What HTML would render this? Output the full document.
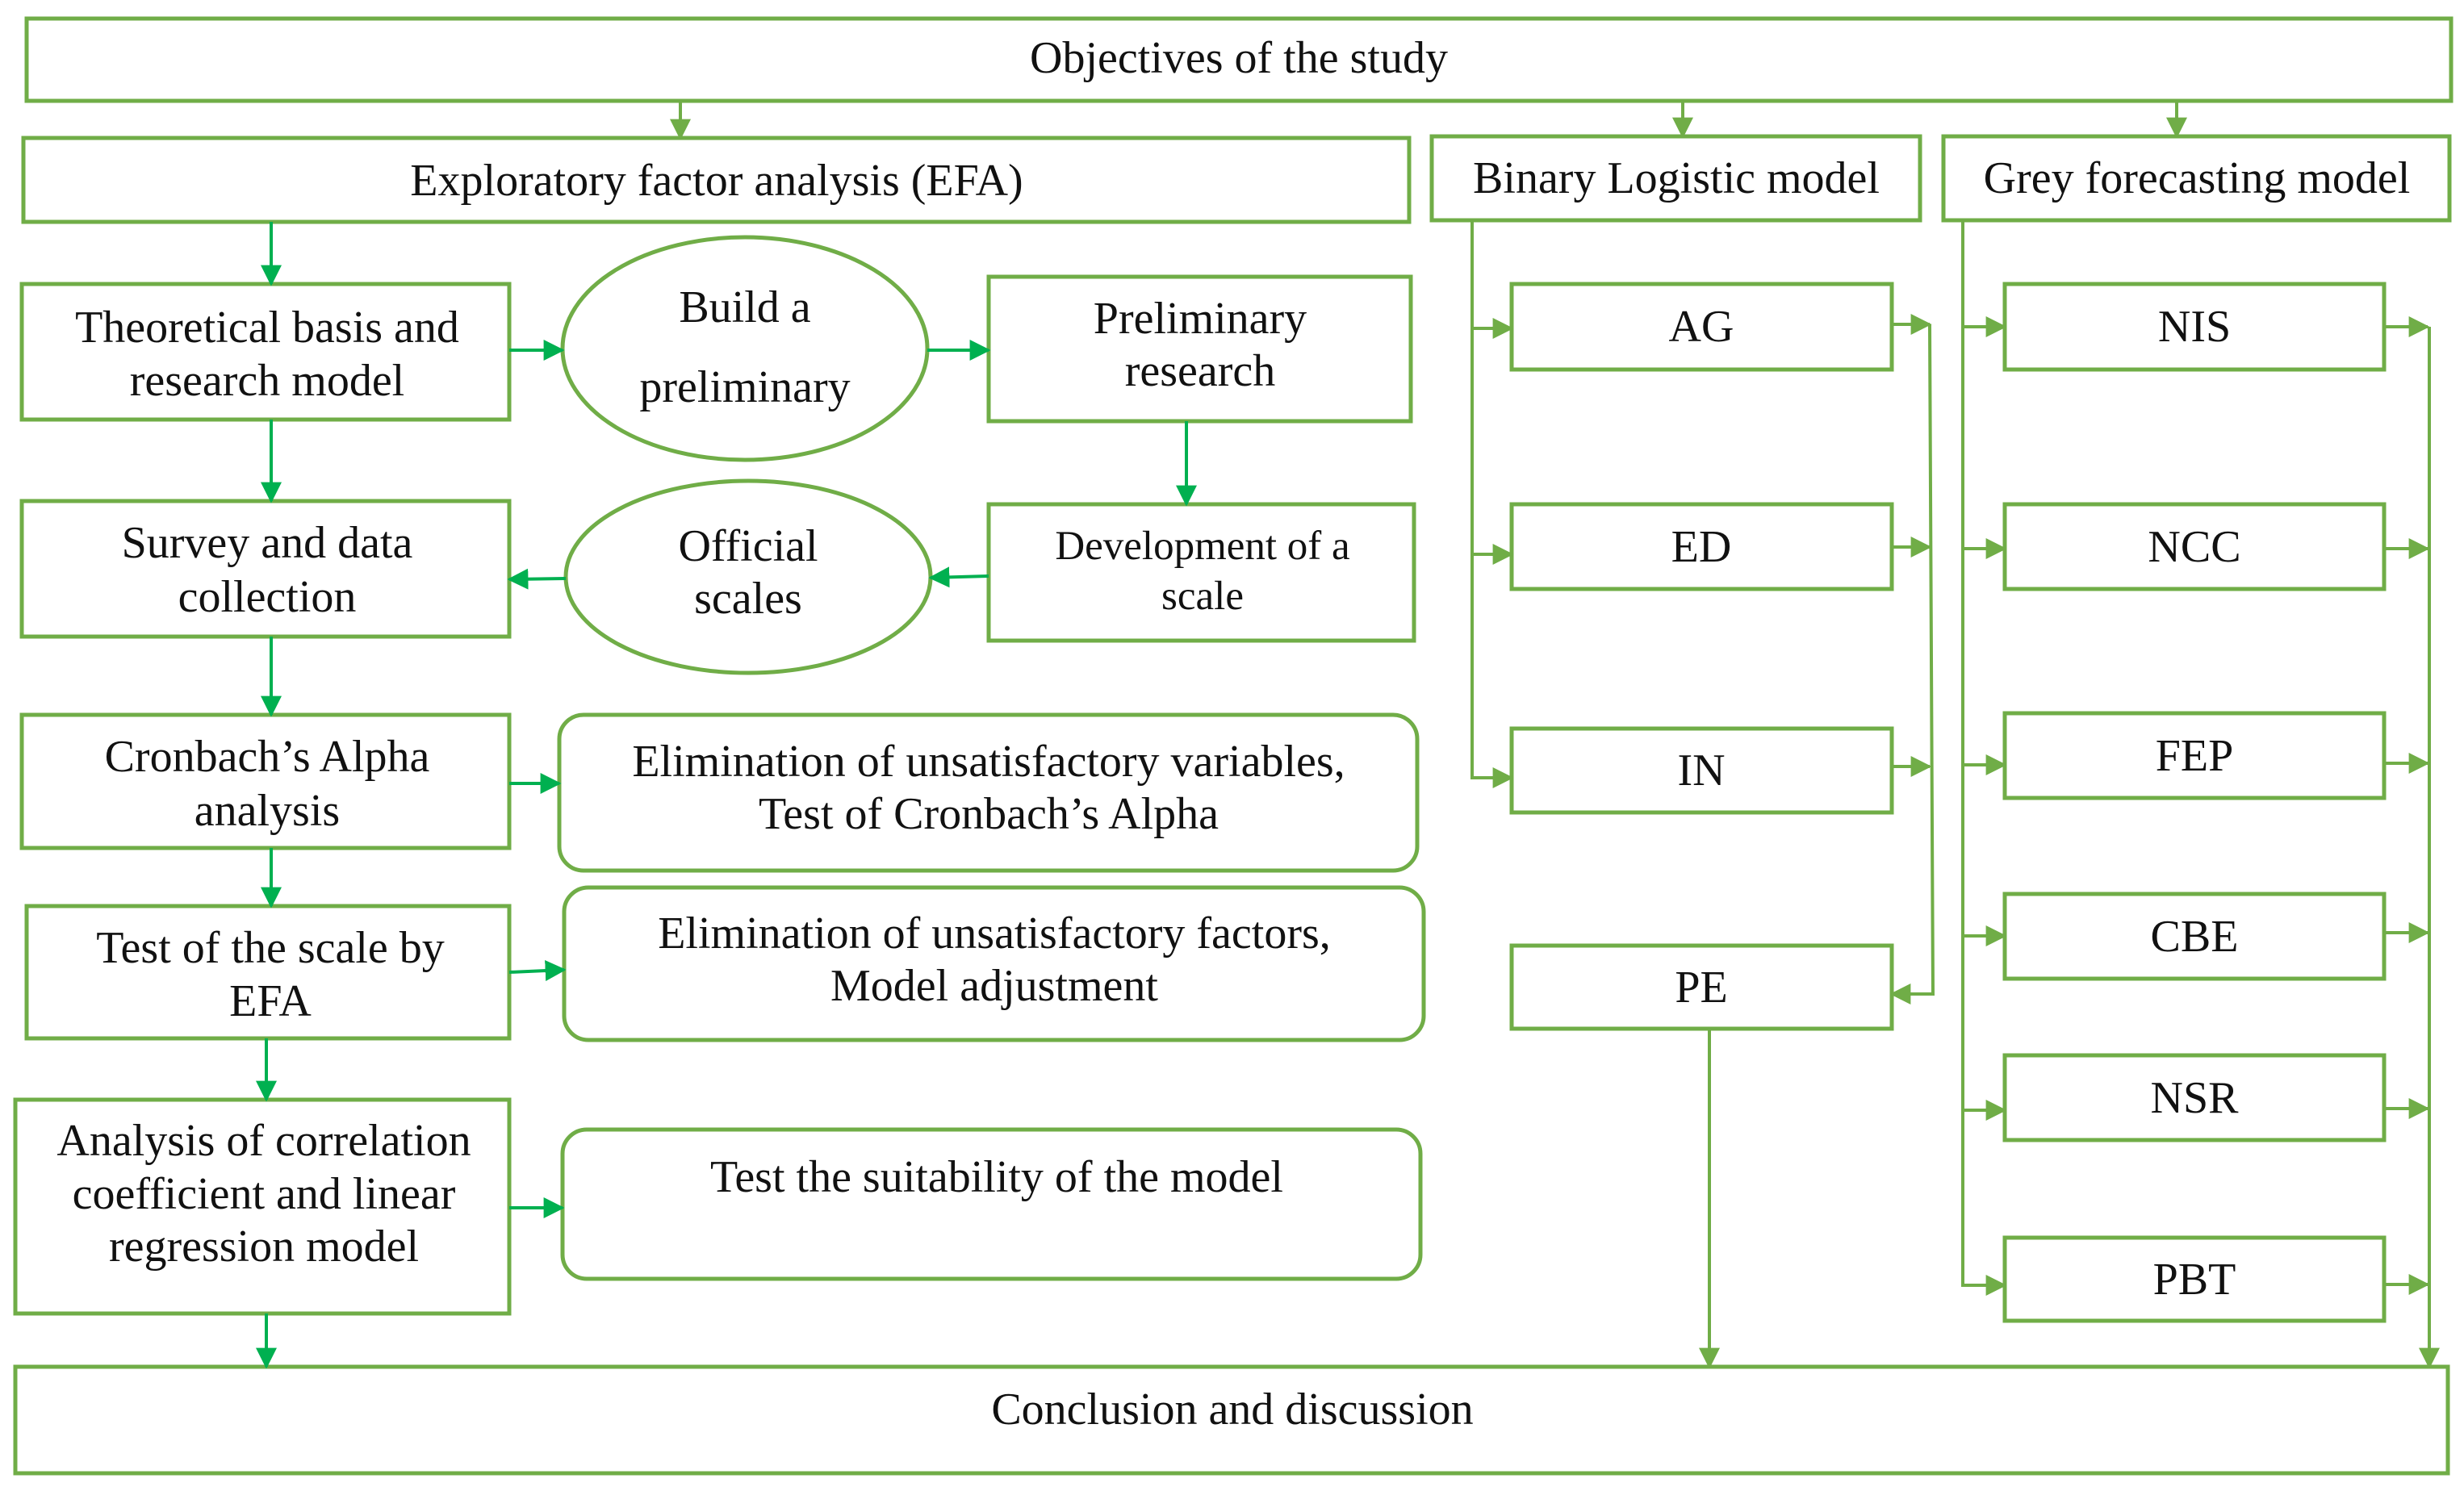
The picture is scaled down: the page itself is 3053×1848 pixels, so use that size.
<!DOCTYPE html>
<html><head><meta charset="utf-8"><style>html,body{margin:0;padding:0;background:#fff}svg{display:block}
svg text{font-family:"Liberation Serif","Times New Roman",Times,"Noto Serif CJK SC",serif !important;}</style></head>
<body>
<svg width="3053" height="1848" viewBox="0 0 3053 1848" xmlns="http://www.w3.org/2000/svg">
<defs>
<marker id="gb" viewBox="0 0 10 10" refX="9" refY="5" markerWidth="26" markerHeight="26" orient="auto" markerUnits="userSpaceOnUse"><path d="M0,0 L10,5 L0,10z" fill="#00b050"/></marker>
<marker id="lb" viewBox="0 0 10 10" refX="9" refY="5" markerWidth="26" markerHeight="26" orient="auto" markerUnits="userSpaceOnUse"><path d="M0,0 L10,5 L0,10z" fill="#70ad47"/></marker>
</defs>
<g fill="#fff" stroke="#70ad47" stroke-width="5">
<rect x="33" y="23" width="3004" height="102"/>
<rect x="29" y="171" width="1717" height="104"/>
<rect x="1774" y="169" width="605" height="104"/>
<rect x="2408" y="169" width="627" height="104"/>
<rect x="27" y="352" width="604" height="168"/>
<ellipse cx="923" cy="432" rx="226" ry="138"/>
<rect x="1225" y="343" width="523" height="179"/>
<rect x="27" y="621" width="604" height="168"/>
<ellipse cx="927" cy="715" rx="226" ry="119"/>
<rect x="1225" y="625" width="527" height="169"/>
<rect x="27" y="886" width="604" height="165"/>
<rect x="693" y="886" width="1063" height="193" rx="30"/>
<rect x="33" y="1123" width="598" height="164"/>
<rect x="699" y="1100" width="1065" height="189" rx="30"/>
<rect x="19" y="1363" width="612" height="265"/>
<rect x="697" y="1400" width="1063" height="185" rx="30"/>
<rect x="19" y="1694" width="3014" height="132"/>
<rect x="1873" y="352" width="471" height="106"/>
<rect x="1873" y="625" width="471" height="105"/>
<rect x="1873" y="903" width="471" height="104"/>
<rect x="1873" y="1172" width="471" height="103"/>
<rect x="2484" y="352" width="470" height="106"/>
<rect x="2484" y="625" width="470" height="105"/>
<rect x="2484" y="884" width="470" height="105"/>
<rect x="2484" y="1108" width="470" height="105"/>
<rect x="2484" y="1308" width="470" height="105"/>
<rect x="2484" y="1534" width="470" height="103"/>
</g>
<g fill="none" stroke="#00b050" stroke-width="4" marker-end="url(#gb)">
<line x1="336" y1="275" x2="336" y2="352"/>
<line x1="336" y1="520" x2="336" y2="621"/>
<line x1="336" y1="789" x2="336" y2="886"/>
<line x1="336" y1="1051" x2="336" y2="1123"/>
<line x1="330" y1="1287" x2="330" y2="1363"/>
<line x1="330" y1="1628" x2="330" y2="1694"/>
<line x1="631" y1="434" x2="697" y2="434"/>
<line x1="1149" y1="434" x2="1225" y2="434"/>
<line x1="1470" y1="522" x2="1470" y2="625"/>
<line x1="1225" y1="714" x2="1153" y2="716"/>
<line x1="701" y1="717" x2="631" y2="718"/>
<line x1="631" y1="971" x2="693" y2="971"/>
<line x1="631" y1="1205" x2="699" y2="1202"/>
<line x1="631" y1="1497" x2="697" y2="1497"/>
</g>
<g fill="none" stroke="#70ad47" stroke-width="4">
<line x1="843" y1="125" x2="843" y2="171" marker-end="url(#lb)"/>
<line x1="2085" y1="125" x2="2085" y2="169" marker-end="url(#lb)"/>
<line x1="2697" y1="125" x2="2697" y2="169" marker-end="url(#lb)"/>
<polyline points="1824,273 1824,964 1873,964" marker-end="url(#lb)"/>
<line x1="1824" y1="407" x2="1873" y2="407" marker-end="url(#lb)"/>
<line x1="1824" y1="687" x2="1873" y2="687" marker-end="url(#lb)"/>
<polyline points="2432,273 2432,1593 2484,1593" marker-end="url(#lb)"/>
<line x1="2432" y1="405" x2="2484" y2="405" marker-end="url(#lb)"/>
<line x1="2432" y1="680" x2="2484" y2="680" marker-end="url(#lb)"/>
<line x1="2432" y1="948" x2="2484" y2="948" marker-end="url(#lb)"/>
<line x1="2432" y1="1160" x2="2484" y2="1160" marker-end="url(#lb)"/>
<line x1="2432" y1="1376" x2="2484" y2="1376" marker-end="url(#lb)"/>
<line x1="2344" y1="402" x2="2391" y2="402" marker-end="url(#lb)"/>
<line x1="2344" y1="678" x2="2391" y2="678" marker-end="url(#lb)"/>
<line x1="2344" y1="950" x2="2391" y2="950" marker-end="url(#lb)"/>
<polyline points="2391,402 2395,1232 2344,1232" marker-end="url(#lb)"/>
<line x1="2118" y1="1275" x2="2118" y2="1694" marker-end="url(#lb)"/>
<line x1="2954" y1="405" x2="3008" y2="405" marker-end="url(#lb)"/>
<line x1="2954" y1="680" x2="3008" y2="680" marker-end="url(#lb)"/>
<line x1="2954" y1="946" x2="3008" y2="946" marker-end="url(#lb)"/>
<line x1="2954" y1="1156" x2="3008" y2="1156" marker-end="url(#lb)"/>
<line x1="2954" y1="1374" x2="3008" y2="1374" marker-end="url(#lb)"/>
<line x1="2954" y1="1592" x2="3008" y2="1592" marker-end="url(#lb)"/>
<line x1="3010" y1="405" x2="3010" y2="1694" marker-end="url(#lb)"/>
</g>
<g font-size="56" fill="#111" text-anchor="middle">
<text x="1535" y="90">Objectives of the study</text>
<text x="888" y="242">Exploratory factor analysis (EFA)</text>
<text x="2077" y="239">Binary Logistic model</text>
<text x="2722" y="239">Grey forecasting model</text>
<text x="331" y="424">Theoretical basis and</text>
<text x="331" y="490">research model</text>
<text x="923" y="399">Build a</text>
<text x="923" y="498">preliminary</text>
<text x="1487" y="413">Preliminary</text>
<text x="1487" y="478">research</text>
<text x="331" y="691">Survey and data</text>
<text x="331" y="758">collection</text>
<text x="927" y="695">Official</text>
<text x="927" y="760">scales</text>
<text x="1490" y="693" font-size="51">Development of a</text>
<text x="1490" y="755" font-size="51">scale</text>
<text x="331" y="956">Cronbach’s Alpha</text>
<text x="331" y="1023">analysis</text>
<text x="1225" y="962">Elimination of unsatisfactory variables,</text>
<text x="1225" y="1027">Test of Cronbach’s Alpha</text>
<text x="335" y="1193">Test of the scale by</text>
<text x="335" y="1259">EFA</text>
<text x="1232" y="1175">Elimination of unsatisfactory factors,</text>
<text x="1232" y="1240">Model adjustment</text>
<text x="327" y="1432">Analysis of correlation</text>
<text x="327" y="1498">coefficient and linear</text>
<text x="327" y="1563">regression model</text>
<text x="1235" y="1477">Test the suitability of the model</text>
<text x="1527" y="1765">Conclusion and discussion</text>
<text x="2108" y="423">AG</text>
<text x="2108" y="696">ED</text>
<text x="2108" y="973">IN</text>
<text x="2108" y="1242">PE</text>
<text x="2719" y="423">NIS</text>
<text x="2719" y="696">NCC</text>
<text x="2719" y="955">FEP</text>
<text x="2719" y="1179">CBE</text>
<text x="2719" y="1379">NSR</text>
<text x="2719" y="1604">PBT</text>
</g>
</svg>
</body></html>
